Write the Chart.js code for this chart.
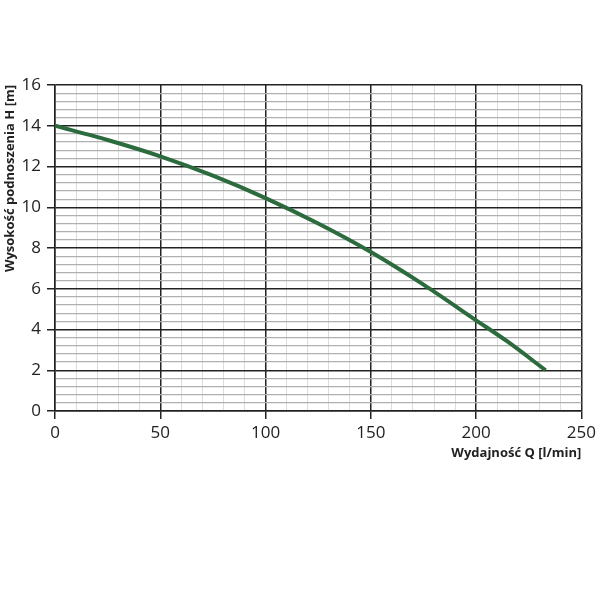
<!DOCTYPE html>
<html>
<head>
<meta charset="utf-8">
<script src="https://cdn.jsdelivr.net/npm/chart.js@4"></script>
<style>
  html, body { margin: 0; padding: 0; background: #fff; }
  #wrap { width: 600px; height: 600px; }
</style>
</head>
<body>
<div id="wrap"><canvas id="chart" width="600" height="600"></canvas></div>
<script>
// pump curve
var flowQ = [0, 25, 50, 75, 100, 125, 150, 175, 200, 215, 233];
var headH = [14, 13.3, 12.5, 11.55, 10.45, 9.2, 7.8, 6.2, 4.45, 3.4, 2];

var xTitle = 'Wydajność Q [l/min]';
var yTitle = 'Wysokość podnoszenia H [m]';

function isMajor(v, step) {
    var r = v / step;
    return Math.abs(r - Math.round(r)) < 1e-6;
}

var points = flowQ.map(function(q, i) { return { x: q, y: headH[i] }; });

var ctx = document.getElementById('chart').getContext('2d');
var chart = new Chart(ctx, {
    type: 'line',
    data: {
        datasets: [{
            data: points,
            borderColor: '#2c6b3d',
            borderWidth: 4,
            pointRadius: 0,
            fill: false,
            tension: 0.3
        }]
    },
    options: {
        responsive: false,
        animation: false,
        layout: { padding: { left: 0, right: 17, top: 85, bottom: 0 } },
        plugins: { legend: { display: false }, tooltip: { enabled: false } },
        scales: {
            x: {
                type: 'linear',
                min: 0,
                max: 250,
                afterFit: function(scale) { scale.height = 189; },
                ticks: {
                    stepSize: 10,
                    autoSkip: false,
                    maxRotation: 0,
                    padding: 4,
                    color: '#222',
                    font: { family: 'Open Sans', size: 17 },
                    callback: function(v) { return isMajor(v, 50) ? String(v) : ''; }
                },
                grid: {
                    color: function(c) { return isMajor(c.tick.value, 50) ? '#222' : '#dcdcdc'; },
                    lineWidth: function(c) { return isMajor(c.tick.value, 50) ? 1.5 : 1; },
                    tickColor: function(c) { return isMajor(c.tick.value, 50) ? '#222' : 'rgba(0,0,0,0)'; },
                    tickLength: 8
                },
                border: { color: '#222', width: 1.5 },
                title: {
                    display: true,
                    text: xTitle,
                    align: 'end',
                    color: '#222',
                    font: { family: 'Open Sans', size: 13, weight: 'bold' },
                    padding: { top: 0, bottom: 139 }
                }
            },
            y: {
                min: 0,
                max: 16,
                afterFit: function(scale) { scale.width = 55; },
                ticks: {
                    stepSize: 0.4,
                    autoSkip: false,
                    padding: 6,
                    color: '#222',
                    font: { family: 'Open Sans', size: 17 },
                    callback: function(v) { return isMajor(v, 2) ? String(Math.round(v)) : ''; }
                },
                grid: {
                    color: function(c) { return isMajor(c.tick.value, 2) ? '#222' : '#b0b0b0'; },
                    lineWidth: function(c) { return isMajor(c.tick.value, 2) ? 1.5 : 1.2; },
                    tickColor: function(c) { return isMajor(c.tick.value, 2) ? '#222' : 'rgba(0,0,0,0)'; },
                    tickLength: 8
                },
                border: { color: '#222', width: 1.5 },
                title: {
                    display: true,
                    text: yTitle,
                    align: 'end',
                    color: '#222',
                    font: { family: 'Open Sans', size: 13, weight: 'bold' },
                    padding: { top: 2, bottom: 0 }
                }
            }
        }
    }
});
</script>
</body>
</html>
